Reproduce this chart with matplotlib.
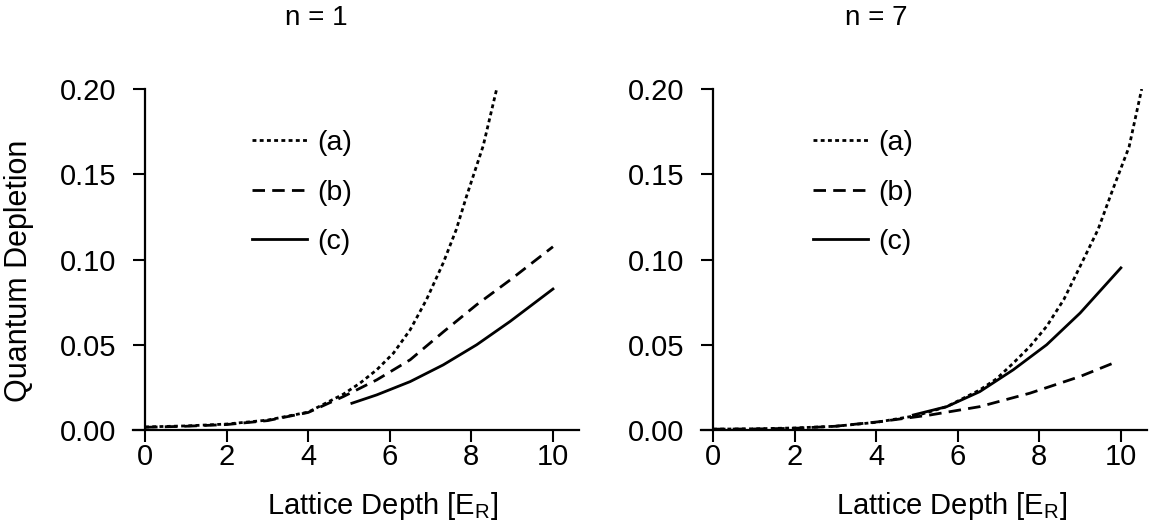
import numpy as np
import matplotlib
matplotlib.use("Agg")
import matplotlib.pyplot as plt

plt.rcParams["font.family"] = ["Liberation Sans", "DejaVu Sans"]

# ---- datos ----
# n = 1
n1_a_x = [0, 1, 2, 3, 4, 4.45, 4.86, 5.27, 5.68, 6.09, 6.5, 6.9, 7.31, 7.63, 7.88, 8.29, 8.62]
n1_a_y = [0.0018, 0.0024, 0.0035, 0.0058, 0.0105, 0.0160, 0.0210, 0.0275, 0.0353, 0.0451,
          0.0588, 0.0765, 0.0980, 0.1176, 0.1370, 0.1667, 0.2000]
n1_b_x = [0, 1, 2, 3, 4, 4.86, 5.68, 6.5, 7.31, 8.13, 8.95, 10.0]
n1_b_y = [0.0016, 0.0022, 0.0032, 0.0055, 0.0103, 0.0196, 0.0294, 0.0412, 0.0575, 0.0735,
          0.0880, 0.1075]
n1_c_x = [5.07, 5.68, 6.5, 7.31, 8.13, 8.95, 10.0]
n1_c_y = [0.0157, 0.0206, 0.0284, 0.0382, 0.0500, 0.0637, 0.0827]

# n = 7
n7_a_x = [0, 1, 2, 3, 4, 5, 5.73, 6.54, 6.95, 7.36, 7.77, 8.18, 8.6, 9.0, 9.44, 9.8, 10.2, 10.51]
n7_a_y = [0.0005, 0.0007, 0.0012, 0.0022, 0.0045, 0.0085, 0.0137, 0.0235, 0.0300, 0.0392,
          0.0490, 0.0608, 0.0765, 0.0960, 0.1176, 0.1410, 0.1660, 0.2000]
n7_b_x = [0, 1, 2, 3, 4.09, 5.32, 6.54, 7.77, 9.0, 9.85]
n7_b_y = [0.0005, 0.0006, 0.0010, 0.0022, 0.0049, 0.0088, 0.0137, 0.0216, 0.0314, 0.0396]
n7_c_x = [4.91, 5.73, 6.54, 7.36, 8.18, 9.0, 10.0]
n7_c_y = [0.0088, 0.0137, 0.0225, 0.0353, 0.0500, 0.0686, 0.0951]

etiquetas = ["(a)", "(b)", "(c)"]
titulos = ["n = 1", "n = 7"]
x_ticks = [0, 2, 4, 6, 8, 10]
y_ticks = [0.00, 0.05, 0.10, 0.15, 0.20]

paneles = [
    [(n1_a_x, n1_a_y), (n1_b_x, n1_b_y), (n1_c_x, n1_c_y)],
    [(n7_a_x, n7_a_y), (n7_b_x, n7_b_y), (n7_c_x, n7_c_y)],
]

estilos = [(0, (1.4, 1.2)), (0, (4.5, 2.6)), "-"]

fig = plt.figure(figsize=(11.65, 5.29), dpi=100)
izq = [0.1140, 0.6015]
ancho = 0.3834
leg_x = [0.2665, 0.251]
xlab_x = [0.558, 0.562]
titulo_x = [316 / 1165, 876 / 1165]

for i, curvas in enumerate(paneles):
    ax = fig.add_axes([izq[i], 0.1839, ancho, 0.6478])
    for (xs, ys), ls, lab in zip(curvas, estilos, etiquetas):
        ax.plot(xs, ys, color="black", lw=2.0, linestyle=ls, label=lab)

    ax.set_xlim(-0.3, 10.65)
    ax.set_ylim(-0.001, 0.2)
    ax.spines["top"].set_visible(False)
    ax.spines["right"].set_visible(False)
    ax.spines["left"].set_position(("data", 0))
    ax.spines["bottom"].set_position(("data", 0))
    ax.spines["left"].set_bounds(0, 0.2)
    for s in ["left", "bottom"]:
        ax.spines[s].set_linewidth(1.6)

    ax.set_xticks(x_ticks)
    ax.set_yticks(y_ticks)
    ax.set_yticklabels([f"{v:.2f}" for v in y_ticks])
    ax.tick_params(axis="y", direction="out", length=8.6, width=1.5, pad=12, labelsize=21)
    ax.tick_params(axis="x", direction="out", length=8.6, width=1.5, pad=0.5, labelsize=21)

    ax.set_xlabel(r"Lattice Depth [E$_\mathregular{R}$]", fontsize=21)
    ax.xaxis.set_label_coords(xlab_x[i], -0.17)
    if i == 0:
        ax.set_ylabel("Quantum Depletion", fontsize=22)
        ax.yaxis.set_label_coords(-0.222, 0.47)

    ax.legend(loc="upper left", bbox_to_anchor=(leg_x[i], 0.88), frameon=False,
              fontsize=20.5, handlelength=1.95, handletextpad=0.35, labelspacing=0.82,
              borderpad=0, borderaxespad=0)

    fig.text(titulo_x[i], 1 - 18 / 529, titulos[i], ha="center", va="center", fontsize=20)

fig.savefig("out.png", dpi=100)
